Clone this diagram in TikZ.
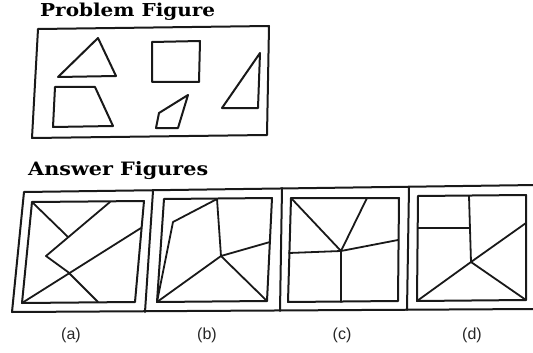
\documentclass[tikz,border=0pt]{standalone}
\usepackage{fontspec}
\newfontfamily\titlefont{DejaVu Serif}
\newfontfamily\labfont{Liberation Sans}
\begin{document}
\begin{tikzpicture}[x=1pt,y=-1pt,
  ln/.style={line width=2pt,line join=round,line cap=round,black!90},
  thin ln/.style={line width=1.8pt,line join=round,line cap=round,black!90},
  lab/.style={font=\labfont\fontsize{16}{19}\selectfont,inner sep=0pt,text=black!85}]
\useasboundingbox (0,0) rectangle (533,353);
% titles
\node[anchor=base west,inner sep=0pt] (t1) at (40,17) {\resizebox{175pt}{13.5pt}{\titlefont\bfseries Problem Figure}};
\node[anchor=base west,inner sep=0pt] (t2) at (28,175) {\resizebox{180pt}{14pt}{\titlefont\bfseries Answer Figures}};
% problem box
\draw[ln] (38,29) -- (269,26) -- (267,135) -- (32,138) -- cycle;
\draw[ln] (98,38) -- (58,77) -- (116,76) -- cycle;
\draw[ln] (152,42) -- (200,41) -- (199,82) -- (152,82) -- cycle;
\draw[ln] (55,87) -- (95,87) -- (113,126) -- (53,127) -- cycle;
\draw[ln] (188,95) -- (159,113) -- (156,128) -- (178,128) -- cycle;
\draw[ln] (260,53) -- (222,108) -- (258,108) -- cycle;
% answer frame
\draw[ln] (536,185) -- (24,192) -- (12,312) -- (536,309);
\draw[ln] (153,191) -- (145,312);
\draw[ln] (282,188) -- (280,311);
\draw[ln] (409,187) -- (407,310);
% panel a
\coordinate (aTL) at (32,202); \coordinate (aTR) at (144,201);
\coordinate (aBR) at (135,302); \coordinate (aBL) at (22,303);
\draw[ln] (aTL) -- (aTR) -- (aBR) -- (aBL) -- cycle;
\draw[thin ln] (aTL) -- (68,237);
\draw[thin ln] (110,202) -- (46,256) -- (68,272) -- (98,302);
\draw[thin ln] (aBL) -- (141,228);
% panel b
\coordinate (bTL) at (164,199); \coordinate (bTR) at (272,198);
\coordinate (bBR) at (267,301); \coordinate (bBL) at (157,302);
\coordinate (bC) at (221,256);
\draw[ln] (bTL) -- (bTR) -- (bBR) -- (bBL) -- cycle;
\draw[thin ln] (bBL) -- (173,222) -- (217,199) -- (bC) -- (270,242);
\draw[thin ln] (bBL) -- (bC) -- (bBR);
% panel c
\coordinate (cTL) at (291,198); \coordinate (cTR) at (399,198);
\coordinate (cBR) at (398,301); \coordinate (cBL) at (288,302);
\coordinate (cC) at (341,251);
\draw[ln] (cTL) -- (cTR) -- (cBR) -- (cBL) -- cycle;
\draw[thin ln] (cTL) -- (cC) -- (367,198);
\draw[thin ln] (289,253) -- (cC) -- (398,240);
\draw[thin ln] (cC) -- (341,302);
% panel d
\coordinate (dTL) at (418,196); \coordinate (dTR) at (526,195);
\coordinate (dBR) at (526,300); \coordinate (dBL) at (417,301);
\coordinate (dC) at (471,262);
\draw[ln] (dTL) -- (dTR) -- (dBR) -- (dBL) -- cycle;
\draw[thin ln] (469,196) -- (dC);
\draw[thin ln] (418,228) -- (469,228);
\draw[thin ln] (dBL) -- (dC) -- (dBR);
\draw[thin ln] (dC) -- (526,223);
% labels
\node[lab] (la) at (71,335) {(a)};
\node[lab] (lb) at (207,335) {(b)};
\node[lab] (lc) at (342,335) {(c)};
\node[lab] (ld) at (472,335) {(d)};
\end{tikzpicture}
\end{document}
